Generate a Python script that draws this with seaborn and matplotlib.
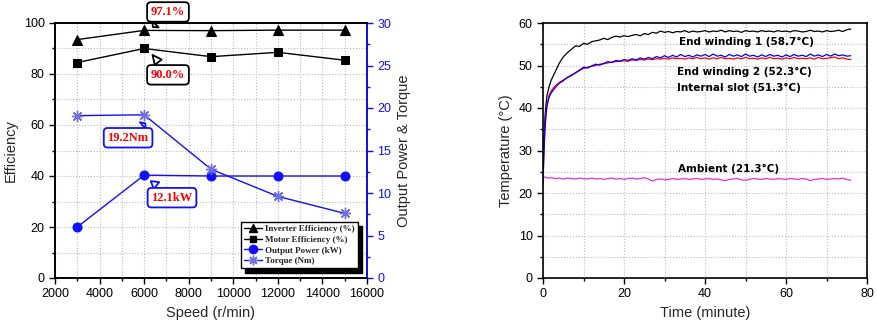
import numpy as np
import pandas as pd
import matplotlib
matplotlib.use("Agg")
import matplotlib.pyplot as plt
import seaborn as sns
from matplotlib.ticker import MultipleLocator
from matplotlib.lines import Line2D

# ---------------- Left chart data ----------------
speed = [3000, 6000, 9000, 12000, 15000]
inverter_eff = [93.5, 97.1, 97.0, 97.2, 97.2]
motor_eff = [84.5, 90.0, 86.8, 88.5, 85.4]
output_power = [6.0, 12.1, 12.0, 12.0, 12.0]
torque = [19.1, 19.2, 12.8, 9.6, 7.6]

# ---------------- Right chart data ----------------
time_min = [0, 0.25, 0.5, 0.75, 1, 1.5, 2, 3, 4, 5, 6, 7, 8, 9, 10, 11, 12, 13, 14, 15,
            16, 17, 18, 19, 20, 21, 22, 23, 24, 25, 26, 27, 28, 29, 30, 31, 32, 33, 34, 35,
            36, 37, 38, 39, 40, 41, 42, 43, 44, 45, 46, 47, 48, 49, 50, 51, 52, 53, 54, 55,
            56, 57, 58, 59, 60, 61, 62, 63, 64, 65, 66, 67, 68, 69, 70, 71, 72, 73, 74, 75, 76]
end_winding_1 = [25.0, 33.0, 38.0, 41.0, 43.0, 45.0, 46.5, 48.5, 50.5, 52.0, 53.0, 53.8, 54.6, 54.5, 55.2,
                 55.0, 55.6, 55.8, 56.0, 56.4, 56.1, 56.6, 56.9, 56.7, 57.0, 56.8, 57.1, 57.3, 57.0, 57.5,
                 57.3, 57.8, 57.6, 58.1, 57.8, 58.0, 57.7, 58.0, 57.9, 58.2, 57.8, 58.1, 57.9, 58.0, 58.2,
                 57.9, 58.1, 58.0, 58.3, 57.9, 58.2, 58.0, 58.1, 57.8, 58.2, 58.0, 58.1, 57.9, 58.2, 58.0,
                 58.1, 57.9, 58.2, 58.0, 58.1, 57.9, 58.2, 58.1, 57.9, 58.0, 58.3, 58.0, 58.1, 57.9, 58.2,
                 58.0, 58.1, 58.3, 58.0, 58.4, 58.6]
end_winding_2 = [22.0, 30.0, 35.0, 38.5, 40.5, 42.5, 43.5, 44.8, 45.8, 46.4, 47.2, 47.6, 48.3, 48.9, 49.6,
                 49.4, 49.9, 50.3, 50.1, 50.5, 50.9, 50.7, 51.2, 51.0, 51.4, 51.2, 51.6, 51.3, 51.8, 51.5,
                 51.9, 51.6, 52.1, 51.8, 52.3, 51.9, 52.4, 52.0, 52.6, 52.1, 52.4, 52.0, 52.5, 52.2, 52.6,
                 52.1, 52.7, 52.2, 52.4, 52.0, 52.6, 52.2, 52.5, 52.1, 52.7, 52.2, 52.4, 52.0, 52.5, 52.1,
                 52.6, 52.2, 52.4, 52.0, 52.5, 52.1, 52.6, 52.2, 52.4, 52.1, 52.7, 52.2, 52.5, 52.1, 52.6,
                 52.2, 52.7, 52.3, 52.5, 52.2, 52.3]
internal_slot = [23.0, 31.0, 36.0, 39.0, 41.0, 43.0, 44.0, 45.2, 46.0, 46.6, 47.1, 47.8, 48.2, 48.8, 49.3,
                 49.6, 49.8, 50.0, 50.3, 50.4, 50.6, 50.8, 50.9, 51.0, 51.1, 51.0, 51.3, 51.2, 51.4, 51.3,
                 51.5, 51.4, 51.6, 51.5, 51.7, 51.5, 51.8, 51.6, 51.7, 51.5, 51.8, 51.6, 51.9, 51.6, 51.8,
                 51.5, 51.8, 51.6, 51.9, 51.6, 51.7, 51.5, 51.8, 51.6, 51.9, 51.6, 51.7, 51.5, 51.8, 51.6,
                 51.9, 51.6, 51.7, 51.5, 51.8, 51.6, 51.9, 51.6, 51.7, 51.6, 51.8, 51.5, 51.9, 51.6, 51.7,
                 51.8, 52.0, 51.6, 51.8, 51.5, 51.4]
ambient = [23.9, 23.8, 23.7, 23.6, 23.6, 23.5, 23.6, 23.4, 23.5, 23.3, 23.5, 23.4, 23.3, 23.5, 23.4,
           23.3, 23.5, 23.3, 23.4, 23.2, 23.4, 23.5, 23.3, 23.4, 23.2, 23.4, 23.5, 23.3, 23.4, 23.6,
           23.3, 22.8, 23.2, 23.3, 23.1, 23.2, 23.4, 23.2, 23.3, 23.4, 23.2, 23.3, 23.4, 23.2, 23.3,
           23.4, 23.2, 23.3, 23.1, 22.9, 23.2, 23.3, 23.4, 23.1, 23.0, 23.2, 23.4, 23.3, 23.2, 23.4,
           23.3, 23.2, 23.4, 23.3, 23.2, 23.4, 23.3, 23.2, 23.4, 23.3, 22.9, 23.2, 23.3, 23.4, 23.2,
           23.3, 23.4, 23.3, 23.5, 23.2, 23.0]

sns.set_theme(style="white")
plt.rcParams['font.family'] = ['Liberation Sans', 'DejaVu Sans']

fig = plt.figure(figsize=(8.77, 3.27), dpi=100)
ax = fig.add_axes([55/877, 1-278/327, 312/877, 255/327])
ax2 = ax.twinx()

BLUE = "#1010ff"
TORQ = "#7070e0"
SERIF = "Liberation Serif"

df_l = pd.DataFrame({"speed": speed, "inv": inverter_eff, "mot": motor_eff,
                     "pow": output_power, "tq": torque})

sns.lineplot(data=df_l, x="speed", y="inv", ax=ax, color="black", marker="^",
             markersize=6.5, markeredgecolor="black", linewidth=1)
sns.lineplot(data=df_l, x="speed", y="mot", ax=ax, color="black", marker="s",
             markersize=5.5, markeredgecolor="black", linewidth=1)
sns.lineplot(data=df_l, x="speed", y="pow", ax=ax2, color=BLUE, marker="o",
             markersize=6.5, markeredgecolor=BLUE, linewidth=1)
sns.lineplot(data=df_l, x="speed", y="tq", ax=ax2, color=BLUE, marker=(8, 2, 0),
             markersize=8, markeredgecolor=TORQ, markeredgewidth=1, linewidth=1)

ax.set_xlim(2000, 16000)
ax.set_ylim(0, 100)
ax2.set_ylim(0, 30)
ax.xaxis.set_major_locator(MultipleLocator(2000))
ax.xaxis.set_minor_locator(MultipleLocator(1000))
ax.yaxis.set_major_locator(MultipleLocator(20))
ax.yaxis.set_minor_locator(MultipleLocator(10))
ax2.yaxis.set_major_locator(MultipleLocator(5))
ax2.yaxis.set_minor_locator(MultipleLocator(2.5))

ax.grid(True, which="both", linestyle=":", color="#bbbbbb", linewidth=0.8)
ax.set_axisbelow(True)
for a in (ax, ax2):
    for s in a.spines.values():
        s.set_color("black")
        s.set_linewidth(1.2)
ax2.spines["right"].set_color(BLUE)
ax.tick_params(which="both", direction="out", left=True, bottom=True, labelsize=9, colors="black")
ax.tick_params(which="major", length=4, width=1)
ax.tick_params(which="minor", length=2, width=1)
ax2.tick_params(axis="y", which="both", direction="out", right=True, labelsize=9, colors=BLUE)
ax2.tick_params(axis="y", which="major", length=4, width=1)
ax2.tick_params(axis="y", which="minor", length=2, width=1)
ax.set_xlabel("Speed (r/min)", fontsize=10.5)
ax.set_ylabel("Efficiency", fontsize=10.5)
ax2.set_ylabel("Output Power & Torque", fontsize=10.5)

def callout(axis, text, xy, xytext, ec):
    axis.annotate(text, xy=xy, xytext=xytext, textcoords="data",
                  ha="center", va="center", fontsize=9, fontweight="bold",
                  color="red", family=SERIF, annotation_clip=False,
                  bbox=dict(boxstyle="round,pad=0.3", fc="white", ec=ec, lw=1.3),
                  arrowprops=dict(arrowstyle="wedge,tail_width=0.7,shrink_factor=0.5",
                                  fc="white", ec=ec, lw=1.3))

callout(ax2, "97.1%", (6300, 29.3), (7070, 31.3), "black")
callout(ax2, "90.0%", (6300, 26.5), (7070, 23.9), "black")
callout(ax2, "19.2Nm", (6150, 18.4), (5280, 16.5), BLUE)
callout(ax2, "12.1kW", (6200, 11.6), (7250, 9.45), BLUE)

handles = [
    Line2D([], [], color="black", marker="^", markersize=6, lw=1),
    Line2D([], [], color="black", marker="s", markersize=5, lw=1),
    Line2D([], [], color=BLUE, marker="o", markersize=6, lw=1),
    Line2D([], [], color=BLUE, marker=(8, 2, 0), markersize=7, markeredgecolor=TORQ, lw=1),
]
labels = ["Inverter Efficiency (%)", "Motor Efficiency (%)", "Output Power (kW)", "Torque (Nm)"]
leg = ax2.legend(handles, labels, loc="lower right", bbox_to_anchor=(0.985, 0.02),
                 frameon=True, fancybox=False, edgecolor="black",
                 shadow={"color": "black", "alpha": 1, "ox": 3, "oy": -3},
                 prop={"family": SERIF, "weight": "bold", "size": 6.5},
                 handlelength=2.0, handletextpad=0.3, labelspacing=0.25, borderpad=0.35)
leg.get_frame().set_linewidth(1.0)

# ---------------- Right chart ----------------
axr = fig.add_axes([543/877, 1-278/327, 324/877, 255/327])
df_r = pd.DataFrame({"t": time_min, "ew1": end_winding_1, "ew2": end_winding_2,
                     "slot": internal_slot, "amb": ambient})
sns.lineplot(data=df_r, x="t", y="ew1", ax=axr, color="black", linewidth=0.9)
sns.lineplot(data=df_r, x="t", y="slot", ax=axr, color="red", linewidth=0.9)
sns.lineplot(data=df_r, x="t", y="ew2", ax=axr, color="#0000ff", linewidth=0.9)
sns.lineplot(data=df_r, x="t", y="amb", ax=axr, color="#e030e0", linewidth=0.9)

axr.set_xlim(0, 80)
axr.set_ylim(0, 60)
axr.xaxis.set_major_locator(MultipleLocator(20))
axr.xaxis.set_minor_locator(MultipleLocator(10))
axr.yaxis.set_major_locator(MultipleLocator(10))
axr.yaxis.set_minor_locator(MultipleLocator(5))
axr.grid(True, which="both", linestyle=":", color="#bbbbbb", linewidth=0.8)
axr.set_axisbelow(True)
for s in axr.spines.values():
    s.set_color("black")
    s.set_linewidth(1.2)
axr.tick_params(which="both", direction="out", left=True, bottom=True, labelsize=9, colors="black")
axr.tick_params(which="major", length=4, width=1)
axr.tick_params(which="minor", length=2, width=1)
axr.set_xlabel("Time (minute)", fontsize=10.5)
axr.set_ylabel("Temperature (°C)", fontsize=10.5)

lab_kw = dict(fontsize=7.5, fontweight="bold", color="black", family="DejaVu Sans")
axr.text(33.5, 55.6, "End winding 1 (58.7°C)", ha="left", va="center", **lab_kw)
axr.text(33.0, 48.4, "End winding 2 (52.3°C)", ha="left", va="center", **lab_kw)
axr.text(33.0, 44.6, "Internal slot (51.3°C)", ha="left", va="center", **lab_kw)
axr.text(45.7, 25.6, "Ambient (21.3°C)", ha="center", va="center", **lab_kw)

fig.savefig("out.png", dpi=100)
